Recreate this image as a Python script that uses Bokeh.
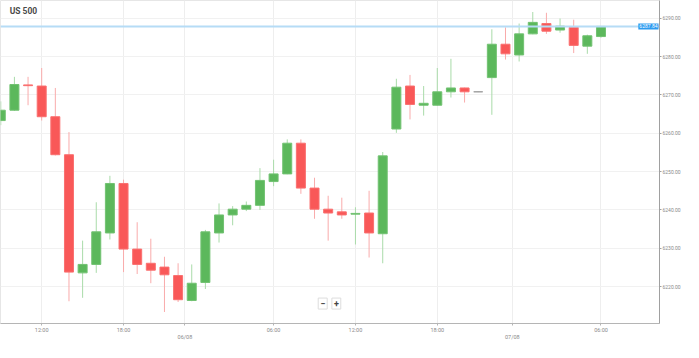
from bokeh.plotting import figure
from bokeh.models import (Range1d, FixedTicker, NumeralTickFormatter, Span, Label,
                          ColumnDataSource)
from bokeh.embed import file_html
from bokeh.resources import INLINE

# ---- data (hourly candles, index positions) ----
opens  = [6263.3, 6266.0, 6272.6, 6272.3, 6264.3, 6254.4, 6223.6, 6225.8, 6234.0, 6246.9,
          6229.8, 6226.1, 6225.1, 6222.9, 6216.4, 6221.1, 6234.0, 6238.7, 6240.2, 6241.2,
          6247.4, 6249.4, 6257.4, 6245.7, 6240.2, 6239.5, 6238.9, 6239.2, 6233.8, 6261.1,
          6272.3, 6267.3, 6267.3, 6270.8, 6271.8, 6270.8, 6274.5, 6283.2, 6280.4, 6285.9,
          6288.6, 6286.9, 6287.6, 6282.7, 6285.2]
highs  = [6268.3, 6274.7, 6274.7, 6277.0, 6271.8, 6260.3, 6232.0, 6242.0, 6248.9, 6247.9,
          6236.8, 6232.5, 6227.8, 6226.1, 6225.8, 6234.8, 6241.7, 6241.0, 6242.2, 6250.9,
          6253.1, 6258.4, 6258.4, 6248.4, 6243.7, 6243.2, 6240.7, 6245.0, 6255.1, 6274.2,
          6275.2, 6272.3, 6277.0, 6279.4, 6271.9, 6270.9, 6287.1, 6287.6, 6288.6, 6291.6,
          6291.4, 6289.9, 6289.6, 6285.7, 6287.9]
lows   = [6262.1, 6265.8, 6267.3, 6263.3, 6254.2, 6216.2, 6217.1, 6223.6, 6232.3, 6223.8,
          6223.3, 6220.9, 6213.4, 6216.0, 6216.2, 6219.4, 6231.5, 6236.0, 6239.7, 6240.0,
          6246.2, 6249.3, 6244.2, 6237.7, 6232.0, 6237.7, 6231.0, 6227.6, 6226.1, 6260.1,
          6263.6, 6264.6, 6267.2, 6269.3, 6268.0, 6270.7, 6264.8, 6279.2, 6278.7, 6285.8,
          6285.9, 6286.2, 6280.9, 6280.7, 6284.9]
closes = [6266.0, 6272.7, 6272.4, 6264.3, 6254.4, 6223.8, 6225.8, 6234.3, 6246.9, 6229.8,
          6225.8, 6224.3, 6223.1, 6216.6, 6220.9, 6234.3, 6238.7, 6240.2, 6241.2, 6247.7,
          6249.4, 6257.4, 6245.7, 6240.2, 6239.2, 6238.7, 6239.1, 6234.0, 6254.1, 6272.0,
          6267.5, 6267.8, 6270.8, 6271.8, 6270.8, 6270.8, 6283.2, 6280.7, 6285.9, 6288.9,
          6286.6, 6287.9, 6282.9, 6285.4, 6287.84]

last_price = 6287.84
price_ticks = [6220, 6230, 6240, 6250, 6260, 6270, 6280, 6290]
time_tick_pos = [3, 9, 20, 26, 32, 44]
time_tick_labels = ["12:00", "18:00", "06:00", "12:00", "18:00", "06:00"]
date_tick_pos = [13.5, 37.5]
date_tick_labels = ["06/08", "07/08"]
title_text = "US 500"

# ---- colours ----
UP, UP_WICK = "#5cb85c", "#a9dba9"
DOWN, DOWN_WICK = "#f95858", "#f9abab"
FLAT = "#9e9e9e"

idx = list(range(len(opens)))
body_col, wick_col, line_col, tops, bots = [], [], [], [], []
for o, c in zip(opens, closes):
    if c > o:
        body_col.append(UP); wick_col.append(UP_WICK); line_col.append("#72c272")
    elif c < o:
        body_col.append(DOWN); wick_col.append(DOWN_WICK); line_col.append("#fa7070")
    else:
        body_col.append(FLAT); wick_col.append("#cfcfcf"); line_col.append(FLAT)
    tops.append(max(o, c)); bots.append(min(o, c))

src = ColumnDataSource(dict(x=idx, top=tops, bottom=bots, high=highs, low=lows,
                            body=body_col, wick=wick_col, line=line_col))

X_END = 48.29
p = figure(width=683, height=342, output_backend="svg", toolbar_location=None,
           x_range=Range1d(-0.02, X_END), y_range=Range1d(6210.4, 6294.6),
           y_axis_location="right", min_border_left=0, min_border_top=0,
           min_border_right=18, min_border_bottom=14)
p.outline_line_color = "#e6e6e6"
p.background_fill_color = "white"
p.border_fill_color = "white"

FONT = "Roboto"

# axes
p.yaxis.ticker = FixedTicker(ticks=price_ticks)
p.yaxis.formatter = NumeralTickFormatter(format="0.00")
p.yaxis.major_label_text_font_size = "5px"
p.yaxis.major_label_text_color = "#8a8a8a"
p.yaxis.major_label_text_font = FONT
p.yaxis.major_label_standoff = 1
p.yaxis.major_tick_out = 2
p.yaxis.major_tick_in = 0
p.yaxis.minor_tick_line_color = None
p.yaxis.axis_line_color = "#a0a0a0"
p.yaxis.major_tick_line_color = "#a0a0a0"

all_x_ticks = time_tick_pos + date_tick_pos
overrides = {t: l for t, l in zip(time_tick_pos, time_tick_labels)}
for t, l in zip(date_tick_pos, date_tick_labels):
    overrides[t] = "\n" + l
p.xaxis.ticker = FixedTicker(ticks=all_x_ticks)
p.xaxis.major_label_overrides = overrides
p.xaxis.major_label_text_font_size = "5.5px"
p.xaxis.major_label_text_color = "#8a8a8a"
p.xaxis.major_label_text_font = FONT
p.xaxis.major_label_standoff = 1
p.xaxis.major_tick_out = 2
p.xaxis.major_tick_in = 0
p.xaxis.minor_tick_line_color = None
p.xaxis.axis_line_color = "#b5b5b5"
p.xaxis.major_tick_line_color = "#b5b5b5"

p.xgrid.grid_line_color = "#eeeeee"
p.ygrid.grid_line_color = "#f1f1f1"

# candles
p.segment(x0="x", y0="high", x1="x", y1="low", color="wick", line_width=1, source=src)
p.vbar(x="x", width=0.66, top="top", bottom="bottom", fill_color="body",
       line_color="line", line_width=1, source=src)

# current price line and tag
p.add_layout(Span(location=last_price, dimension="width", line_color="#b6dcf6", line_width=2))
p.add_layout(Label(x=X_END, y=last_price, x_offset=-1, text=f"{last_price:.2f}",
                   text_font=FONT, text_font_size="5px", text_color="white",
                   text_baseline="middle", text_align="right",
                   background_fill_color="#2d9bf0", padding=1))

# title
p.add_layout(Label(x=0.65, y=6291.8, text=title_text, text_font=FONT, text_font_size="8.5px",
                   text_font_style="bold", text_color="#4a4a4a", text_baseline="middle"))

# zoom control
for xx, s in [(23.6, "\u2212"), (24.6, "+")]:
    p.add_layout(Label(x=xx, y=6215.6, text=s, text_font=FONT, text_font_size="9px",
                       text_font_style="bold", text_color="#444444",
                       text_align="center", text_baseline="middle",
                       background_fill_color="white", border_line_color="#dddddd",
                       padding=2))

open("out.html", "w").write(file_html(p, INLINE))
